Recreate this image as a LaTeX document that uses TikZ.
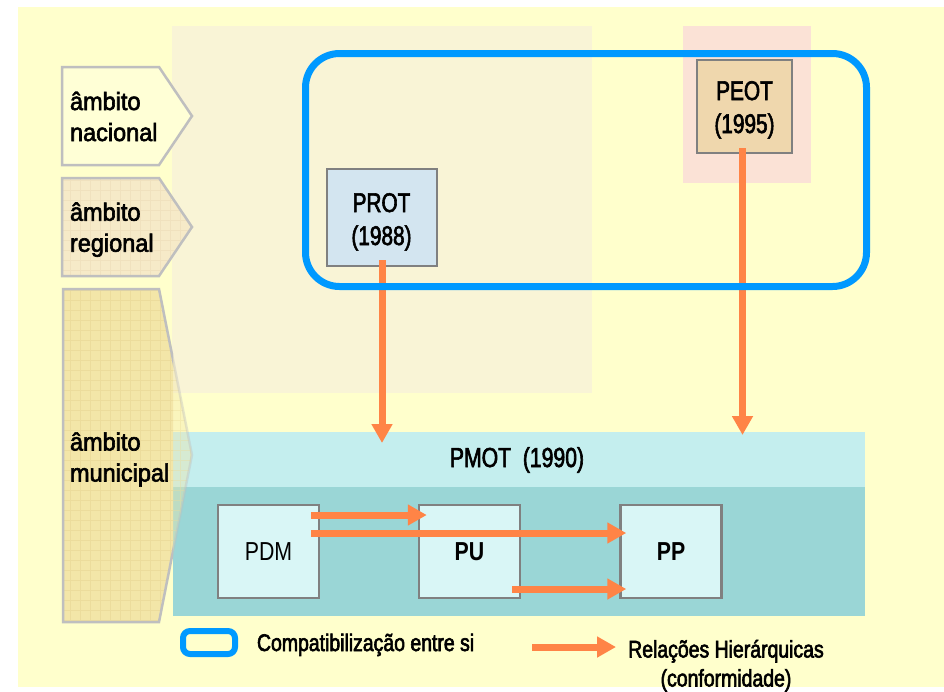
\documentclass[tikz,border=0pt]{standalone}
\usepackage{fontspec}
\setmainfont{Liberation Sans}
\newfontfamily\labfont[FakeStretch=0.94]{Liberation Sans}
\newfontfamily\titfont[FakeStretch=0.77]{Liberation Sans}
\newfontfamily\planfont[FakeStretch=0.82]{Liberation Sans}
\newfontfamily\legfont[FakeStretch=0.81]{Liberation Sans}
\newcommand\heavytext[1]{\special{pdf:literal direct 2 Tr 0.6 w}#1\special{pdf:literal direct 0 Tr}}
\usetikzlibrary{arrows.meta,calc}
\definecolor{bgyellow}{HTML}{FFFFCC}
\definecolor{beigebg}{HTML}{F9F4D6}
\definecolor{pinkbg}{HTML}{FBE2D6}
\definecolor{compblue}{HTML}{0099FF}
\definecolor{arrorange}{HTML}{FF8446}
\definecolor{protfill}{HTML}{D3E5F0}
\definecolor{peotfill}{HTML}{EFD7AD}
\definecolor{bandlight}{HTML}{C4EEEE}
\definecolor{banddark}{HTML}{9AD6D6}
\definecolor{planfill}{HTML}{D9F6F6}
\definecolor{boxborder}{HTML}{808080}
\definecolor{pentborder}{HTML}{BFBFBF}
\definecolor{natfill}{HTML}{FFFFD6}
\definecolor{regfill}{HTML}{F6EAC8}
\definecolor{reggrid}{HTML}{F0E1BE}
\definecolor{munfill}{HTML}{F3E6A8}
\definecolor{mungrid}{HTML}{ECDC9C}
\tikzset{
  txt/.style={inner sep=0pt, outer sep=0pt, text=black},
  lablbl/.style={txt, anchor=base west, font=\labfont\fontsize{25}{31}\selectfont},
  titlbl/.style={txt, anchor=base, font=\titfont\fontsize{27}{33}\selectfont},
  plan/.style={draw=boxborder, line width=2.5pt, fill=planfill, minimum width=101pt,
    minimum height=93pt, inner sep=0pt, font=\planfont\fontsize{26}{30}\selectfont},
  legtxt/.style={txt, font=\legfont\fontsize{24}{29}\selectfont},
  hier/.style={draw=arrorange, line width=7pt, -{Triangle[width=20pt,length=19pt]}},
  pent/.style={draw=pentborder, line width=2.5pt, line join=miter},
  regionbox/.style={draw=boxborder, line width=2.5pt, inner sep=0pt},
}
\newcommand\munpath{(63,289) -- (159,289) -- (192,455) -- (159,622) -- (63,622) -- cycle}
\newcommand\munpentdraw[1]{%
  \begin{scope}
    \clip \munpath;
    \fill[munfill, fill opacity=#1] (0,0) rectangle (300,700);
    \draw[mungrid, line width=0.5pt, step=10pt, draw opacity=#1] (60,625) grid (200,285);
  \end{scope}
  \draw[pent, draw opacity=#1] \munpath;
}
\begin{document}
\begin{tikzpicture}[x=1pt,y=-1pt]
  % page
  \fill[white] (0,0) rectangle (944,691);
  \useasboundingbox (0,0) rectangle (944,691);
  \fill[bgyellow] (18,7) rectangle (944,687);
  \fill[beigebg] (172,26) rectangle (592,393);
  \fill[pinkbg] (683,26) rectangle (811,183);
  % nacional pentagon
  \draw[pent, fill=natfill] (62,67) -- (159,67) -- (192,116) -- (159,165) -- (62,165) -- cycle;
  % regional pentagon
  \begin{scope}
    \clip (62,178) -- (159,178) -- (192,227) -- (159,276) -- (62,276) -- cycle;
    \fill[regfill] (0,0) rectangle (300,400);
    \draw[reggrid, line width=0.5pt, step=10pt] (60,280) grid (200,175);
  \end{scope}
  \draw[pent] (62,178) -- (159,178) -- (192,227) -- (159,276) -- (62,276) -- cycle;
  % municipal bands
  \node[fill=bandlight, inner sep=0pt, minimum width=692pt, minimum height=55pt, anchor=north west] (pmot) at (173,432) {};
  \node[fill=banddark, inner sep=0pt, minimum width=692pt, minimum height=129pt, anchor=north west] (pmotin) at (173,487) {};
  % municipal pentagon
  \begin{scope}
    \clip (0,0) rectangle (173,700);
    \munpentdraw{1}
  \end{scope}
  \begin{scope}
    \clip (173,0) rectangle (200,700);
    \munpentdraw{0.4}
  \end{scope}
  % PROT / PEOT
  \node[regionbox, fill=protfill, minimum width=110pt, minimum height=97pt] (prot) at (382,217.5) {};
  \node[regionbox, fill=peotfill, minimum width=95pt, minimum height=93pt] (peot) at (744.5,106.5) {};
  \draw[hier] ([yshift=7pt]prot.south) -- ([yshift=-11pt]prot.south |- pmot.north);
  \draw[hier] ([xshift=-2pt,yshift=6pt]peot.south) -- ([xshift=-2pt,yshift=-3pt]peot.south |- pmot.north);
  % compatibility frame
  \node[draw=compblue, line width=7pt, rounded corners=34pt, minimum width=561pt, minimum height=233pt,
    inner sep=0pt, anchor=north west] (compat) at (302,50) {};
  % plans
  \node[plan] (pdm) at (268.5,551.5) {PDM};
  \node[plan, font=\planfont\bfseries\fontsize{26}{30}\selectfont] (pu) at (469.5,551.5) {PU};
  \node[plan, font=\planfont\bfseries\fontsize{26}{30}\selectfont] (pp) at (671,551.5) {PP};
  \draw[hier] ($(pdm.east)+(-9,-36.5)$) -- ($(pu.west)+(9,-36.5)$);
  \draw[hier] ($(pdm.east)+(-9,-18.5)$) -- ($(pp.west)+(7,-18.5)$);
  \draw[hier] ($(pu.east)+(-9,37.5)$) -- ($(pp.west)+(7,37.5)$);
  % texts
  \node[lablbl] (nac) at (70,110) {\heavytext{\begin{tabular}[t]{@{}l@{}}âmbito\\nacional\end{tabular}}};
  \node[lablbl] (reg) at (70,220.7) {\heavytext{\begin{tabular}[t]{@{}l@{}}âmbito\\regional\end{tabular}}};
  \node[lablbl] (mun) at (70,450.5) {\heavytext{\begin{tabular}[t]{@{}l@{}}âmbito\\municipal\end{tabular}}};
  \node[titlbl] (protlbl) at (381.5,212) {\heavytext{\begin{tabular}[t]{@{}c@{}}PROT\\(1988)\end{tabular}}};
  \node[titlbl] (peotlbl) at (744.5,100) {\heavytext{\begin{tabular}[t]{@{}c@{}}PEOT\\(1995)\end{tabular}}};
  \node[titlbl, font=\titfont\fontsize{27.5}{33}\selectfont] (pmotlbl) at (517,467) {\heavytext{PMOT\ \ (1990)}};
  % legend
  \node[draw=compblue, line width=6pt, rounded corners=7pt, minimum width=52pt, minimum height=23pt,
    inner sep=0pt] (legbox) at (209,642.5) {};
  \node[legtxt, anchor=base west] (legcomp) at (257,651) {\heavytext{Compatibilização entre si}};
  \coordinate (legA) at (532,647);
  \coordinate (legB) at (616,647);
  \draw[hier] (legA) -- (legB);
  \node[legtxt, anchor=base] (leghier) at (726,657.5) {\heavytext{\begin{tabular}[t]{@{}c@{}}Relações Hierárquicas\\(conformidade)\end{tabular}}};
\end{tikzpicture}
\end{document}
